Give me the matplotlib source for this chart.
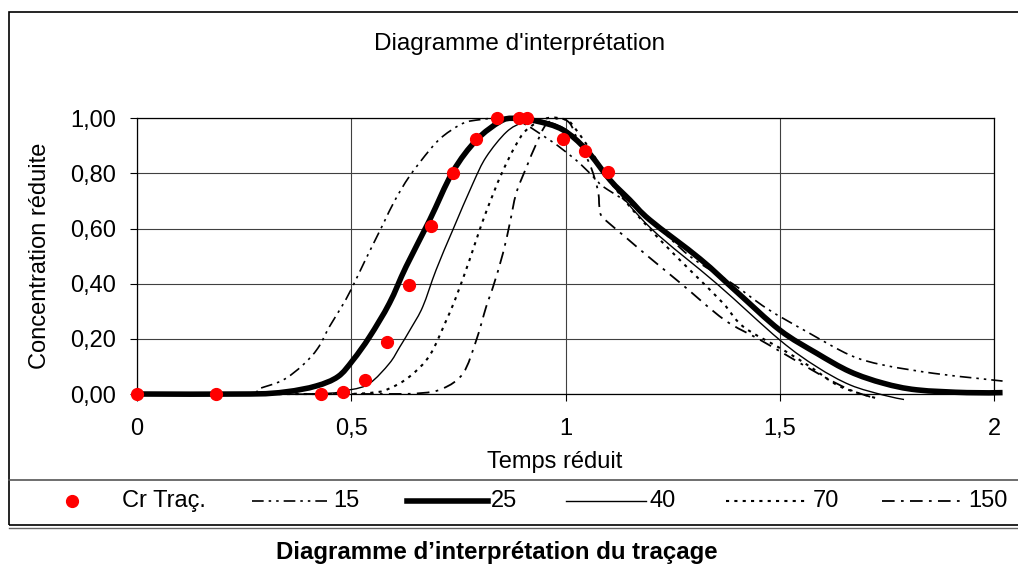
import matplotlib
matplotlib.use('Agg')
import matplotlib.pyplot as plt
from matplotlib.lines import Line2D
from matplotlib.patches import Rectangle, PathPatch
from matplotlib.path import Path

plt.rcParams['font.family'] = ['Liberation Sans', 'DejaVu Sans']

# Points du traçage (Cr Traç.)
x_trac = [0, 0.185, 0.429, 0.480, 0.532, 0.583, 0.635, 0.686, 0.738, 0.790,
          0.841, 0.892, 0.911, 0.995, 1.046, 1.099]
y_trac = [0, 0, 0, 0.008, 0.052, 0.19, 0.394, 0.611, 0.80, 0.925,
          1.0, 1.0, 1.0, 0.925, 0.88, 0.807]

# Courbe Pe = 15
x15 = [0, 0.25, 0.286, 0.34, 0.387, 0.422, 0.449, 0.477, 0.5, 0.531, 0.574,
       0.601, 0.636, 0.683, 0.714, 0.761, 0.80, 0.839, 0.893, 0.963, 0.99,
       1.033, 1.072, 1.088, 1.15, 1.2, 1.29, 1.39, 1.47, 1.563, 1.664, 1.742,
       1.859, 1.96, 2.02]
y15 = [0, 0, 0.02, 0.05, 0.105, 0.166, 0.244, 0.315, 0.38, 0.48, 0.615,
       0.70, 0.79, 0.885, 0.935, 0.982, 0.995, 1.0, 0.988, 0.921, 0.891,
       0.837, 0.776, 0.752, 0.69, 0.63, 0.50, 0.40, 0.31, 0.226, 0.141, 0.105,
       0.075, 0.057, 0.047]

# Courbe Pe = 25
x25 = [0, 0.264, 0.348, 0.418, 0.469, 0.504, 0.543, 0.589, 0.628, 0.683,
       0.737, 0.792, 0.847, 0.878, 0.932, 0.994, 1.049, 1.104, 1.15,
       1.197, 1.314, 1.40, 1.50, 1.586, 1.664, 1.742, 1.82, 1.937, 2.02]
y25 = [0, 0, 0.008, 0.029, 0.063, 0.123, 0.208, 0.329, 0.462, 0.631,
       0.806, 0.921, 0.988, 1.0, 0.99, 0.958, 0.885, 0.776, 0.704,
       0.631, 0.49, 0.37, 0.232, 0.148, 0.081, 0.039, 0.015, 0.005, 0.005]

# Courbe Pe = 40
x40 = [0, 0.40, 0.496, 0.543, 0.589, 0.613, 0.64, 0.667, 0.698, 0.737,
       0.784, 0.815, 0.862, 0.901, 0.94, 1.0, 1.05, 1.104, 1.2, 1.353, 1.50,
       1.586, 1.664, 1.742, 1.79]
y40 = [0, 0, 0.015, 0.039, 0.111, 0.17, 0.24, 0.317, 0.45, 0.595,
       0.764, 0.86, 0.95, 0.985, 0.994, 0.96, 0.88, 0.77, 0.60, 0.40, 0.196,
       0.099, 0.033, -0.004, -0.02]

# Courbe Pe = 70
x70 = [0, 0.45, 0.55, 0.589, 0.636, 0.683, 0.722, 0.745, 0.776, 0.804,
       0.831, 0.854, 0.882, 0.909, 0.956, 1.002, 1.025, 1.06, 1.1, 1.15,
       1.22, 1.298, 1.368, 1.415, 1.508, 1.571, 1.641, 1.727]
y70 = [0, 0, 0.005, 0.02, 0.063, 0.14, 0.268, 0.353, 0.486, 0.615,
       0.725, 0.81, 0.897, 0.958, 1.0, 0.994, 0.958, 0.88, 0.78, 0.68,
       0.56, 0.438, 0.329, 0.244, 0.16, 0.099, 0.027, -0.016]

# Courbe Pe = 150
x150 = [0, 0.55, 0.66, 0.714, 0.761, 0.792, 0.815, 0.831, 0.854, 0.87,
        0.885, 0.909, 0.932, 0.956, 0.987, 1.01, 1.025, 1.037, 1.06, 1.076,
        1.079, 1.084, 1.111, 1.143, 1.192, 1.27, 1.37, 1.45, 1.508, 1.60,
        1.664, 1.711]
y150 = [0, 0, 0.003, 0.02, 0.075, 0.196, 0.317, 0.389, 0.51, 0.619,
        0.728, 0.823, 0.908, 0.98, 1.0, 0.982, 0.933, 0.897, 0.82, 0.735,
        0.68, 0.646, 0.607, 0.565, 0.50, 0.40, 0.27, 0.20, 0.148, 0.065,
        0.015, -0.01]

xticks = [0, 0.5, 1, 1.5, 2]
xlabels = ['0', '0,5', '1', '1,5', '2']
yticks = [0, 0.2, 0.4, 0.6, 0.8, 1.0]
ylabels = ['0,00', '0,20', '0,40', '0,60', '0,80', '1,00']

styles = {
    '15': dict(color='black', lw=1.2, ls=(0, (7, 3, 1.5, 3, 1.5, 3))),
    '25': dict(color='black', lw=4.0, ls='-'),
    '40': dict(color='black', lw=1.0, ls='-'),
    '70': dict(color='black', lw=1.5, ls=(0, (1.5, 2.5))),
    '150': dict(color='black', lw=1.3, ls=(0, (7, 3.5, 1.5, 3.5))),
}


def smooth_path(xs, ys):
    # lissage type Excel (Bezier, tension 1/6) entre les points lus
    pts = list(zip(xs, ys))
    verts = [pts[0]]
    codes = [Path.MOVETO]
    n = len(pts)
    for i in range(n - 1):
        p0 = pts[max(i - 1, 0)]
        p1 = pts[i]
        p2 = pts[i + 1]
        p3 = pts[min(i + 2, n - 1)]
        c1 = (p1[0] + (p2[0] - p0[0]) / 6, p1[1] + (p2[1] - p0[1]) / 6)
        c2 = (p2[0] - (p3[0] - p1[0]) / 6, p2[1] - (p3[1] - p1[1]) / 6)
        verts += [c1, c2, p2]
        codes += [Path.CURVE4] * 3
    return Path(verts, codes)


W, H = 1018, 564
fig = plt.figure(figsize=(W / 100, H / 100), dpi=100)
ax = fig.add_axes([137 / W, 1 - 394 / H, (994 - 137) / W, (394 - 118.3) / H])

curves = [('15', x15, y15), ('40', x40, y40), ('70', x70, y70),
          ('150', x150, y150), ('25', x25, y25)]
for name, xs, ys in curves:
    st = styles[name]
    ax.add_patch(PathPatch(smooth_path(xs, ys), fill=False, ec=st['color'], lw=st['lw'],
                           ls=st['ls'], clip_on=False, zorder=3, capstyle='butt'))
ax.plot(x_trac, y_trac, 'o', color='red', ms=8.5, mec='red', clip_on=False, zorder=4)

ax.set_xlim(0, 2)
ax.set_ylim(0, 1)
ax.set_xticks(xticks)
ax.set_xticklabels(xlabels)
ax.set_yticks(yticks)
ax.set_yticklabels(ylabels)
ax.grid(True, color='#404040', lw=0.8)
ax.set_axisbelow(True)
for s in ax.spines.values():
    s.set_color('black')
    s.set_linewidth(0.9)
ax.tick_params(axis='both', direction='out', length=5, width=0.8, labelsize=17)
ax.tick_params(axis='x', pad=12)
ax.tick_params(axis='y', pad=10)

fig.text(520 / W, 1 - 44 / H, "Diagramme d'interprétation", ha='center', va='center', fontsize=17.5)
fig.text(555 / W, 1 - 462 / H, 'Temps réduit', ha='center', va='center', fontsize=17)
fig.text(40 / W, 1 - 256 / H, 'Concentration réduite', ha='center', va='center',
         rotation=90, fontsize=17)

# cadre du graphique et de la légende
fig.patches.append(Rectangle((9 / W, 1 - 525 / H), 1.2, (525 - 12) / H,
                             transform=fig.transFigure, fill=False, ec='black', lw=1.2))
fig.add_artist(Line2D([9 / W, 1], [1 - 480 / H] * 2, transform=fig.transFigure,
                      color='#555555', lw=1.2))
fig.add_artist(Line2D([9 / W, 1], [1 - 527.5 / H] * 2, transform=fig.transFigure,
                      color='#666666', lw=1.0))

ly = 1 - 501 / H
fig.add_artist(Line2D([72 / W], [ly], transform=fig.transFigure, marker='o',
                      color='red', ms=8.5, ls='none'))
fig.text(122 / W, ly, 'Cr Traç.', ha='left', va='center', fontsize=17)
leg = [('15', 252, 330), ('25', 407, 488), ('40', 566, 646), ('70', 726, 806), ('150', 882, 965)]
for name, x0, x1 in leg:
    fig.add_artist(Line2D([x0 / W, x1 / W], [ly, ly], transform=fig.transFigure,
                          **styles[name]))
    fig.text((x1 + 3 + (4 if name == '70' else 0)) / W, ly, name, ha='left', va='center', fontsize=17)

fig.text(497 / W, 1 - 552 / H, 'Diagramme d\u2019interprétation du traçage', ha='center',
         va='center', fontsize=17.3, fontweight='bold')

fig.savefig('out.png', dpi=100)
